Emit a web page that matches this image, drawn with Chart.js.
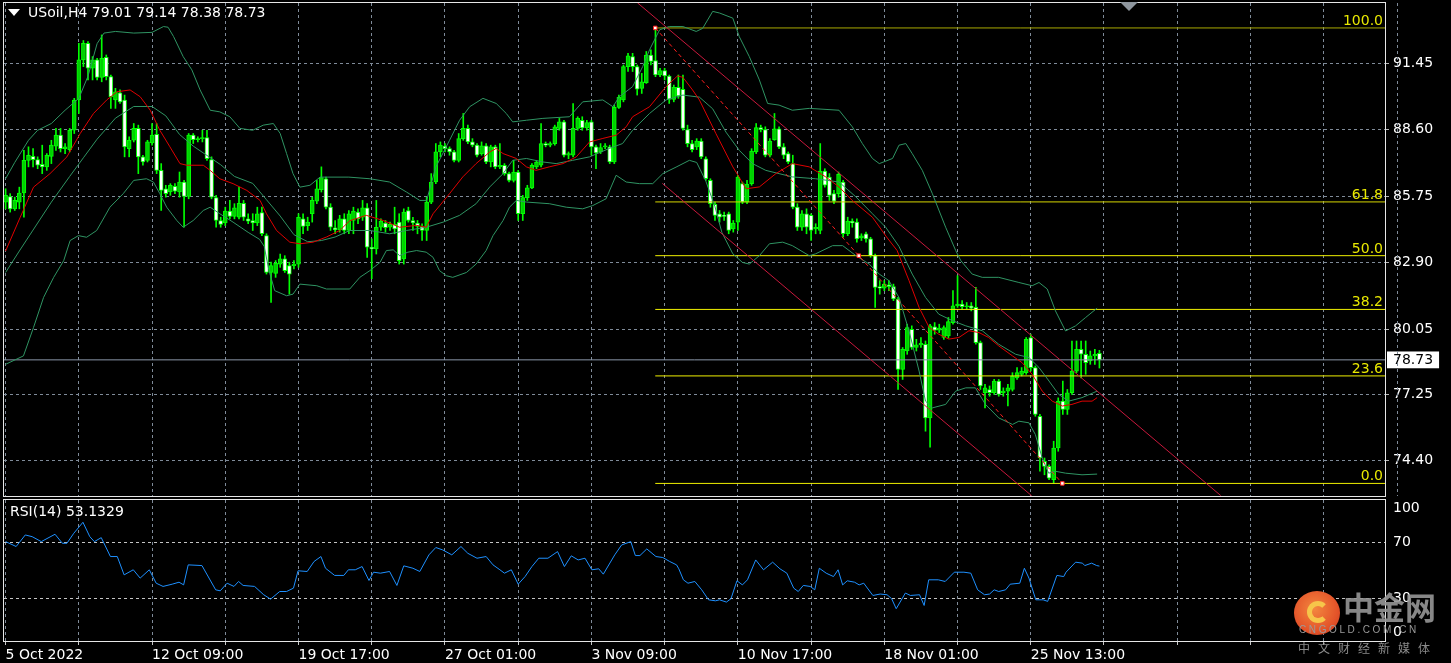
<!DOCTYPE html>
<html><head><meta charset="utf-8">
<script src="https://cdn.jsdelivr.net/npm/chart.js@4.4.1/dist/chart.umd.min.js"></script>
<style>
html,body{margin:0;padding:0;background:#000;width:1451px;height:663px;overflow:hidden;}
#wrap{position:relative;width:1451px;height:663px;background:#000;font-family:"DejaVu Sans",Verdana,sans-serif;}
canvas{position:absolute;left:0;}
#c1{top:0;}
#c2{top:497px;}
.lbl{position:absolute;color:#fff;font-size:14px;white-space:pre;line-height:17px;}
#tri{position:absolute;left:8px;top:9px;width:0;height:0;border-left:6px solid transparent;border-right:6px solid transparent;border-top:7px solid #fff;}
#shift{position:absolute;left:1120px;top:2px;width:0;height:0;border-left:9px solid transparent;border-right:9px solid transparent;border-top:9px solid #8e969e;}
#logo{position:absolute;left:1294px;top:591px;width:46px;height:44px;border-radius:50%;background:radial-gradient(circle at 45% 40%,#f3873f 0%,#e4552a 60%,#c8361c 100%);}
#logo .sw{position:absolute;left:13px;top:10px;width:12px;height:12px;border:5px solid #f6c64a;border-radius:50%;border-right-color:transparent;}
#wm1{position:absolute;left:1343px;top:589px;font-family:"Noto Sans CJK SC",sans-serif;font-weight:bold;font-size:31px;line-height:34px;color:rgba(150,150,150,0.9);}
#wm2{position:absolute;left:1299px;top:624px;font-family:"Liberation Sans",sans-serif;font-size:10px;letter-spacing:2.6px;color:#9a9a9a;}
#wm3{position:absolute;left:1298px;top:639px;font-family:"Noto Sans CJK SC",sans-serif;font-size:12px;letter-spacing:8px;color:#8a8a8a;}
</style></head><body>
<div id="wrap">
<canvas id="c1" width="1451" height="497"></canvas>
<canvas id="c2" width="1451" height="166"></canvas>
<div id="tri"></div>
<div class="lbl" id="title" style="left:28px;top:4px;"></div>
<div class="lbl" id="rsiLbl" style="left:10px;top:503px;"></div>
<div id="shift"></div>
<div id="logo"><div class="sw"></div></div>
<div id="wm1">中金网</div>
<div id="wm2">CNGOLD.COM.CN</div>
<div id="wm3">中文财经新媒体</div>
</div>
<script>
const SYMBOL = 'USoil,H4';
const opens = [
85.50,85.74,85.21,85.50,85.89,87.29,87.46,87.32,87.12,87.01,
87.46,87.90,88.37,87.79,87.75,88.58,89.88,91.60,92.31,91.24,
91.60,90.85,91.71,90.88,89.88,90.19,89.88,87.79,88.15,88.66,
87.44,87.29,88.04,88.41,86.86,86.07,85.93,86.17,85.93,86.36,
85.74,88.37,88.18,88.22,88.27,87.32,85.69,84.71,84.60,85.11,
84.88,84.85,85.45,84.78,84.71,84.60,85.05,84.06,82.48,82.44,
82.84,83.06,82.77,82.77,82.84,84.78,84.49,85.00,85.54,86.03,
86.50,85.28,84.40,84.31,84.78,84.28,84.71,85.07,84.85,85.25,
83.56,83.49,84.42,84.60,84.42,84.54,84.64,83.06,85.14,84.71,
84.60,84.45,84.28,85.50,86.36,87.65,87.90,87.79,87.65,87.29,
88.22,88.66,88.08,87.94,87.58,87.91,87.22,87.87,87.01,87.08,
86.72,86.43,86.79,85.00,85.69,86.11,87.01,87.08,88.01,87.94,
88.01,88.66,88.94,87.51,87.51,88.66,89.01,88.68,88.94,87.87,
87.65,87.87,87.87,87.22,89.56,89.88,91.31,91.74,91.31,90.38,
90.62,91.81,91.57,90.95,91.14,90.91,89.90,90.42,90.34,88.61,
88.01,87.87,88.12,87.36,86.43,85.40,85.00,84.93,85.00,84.35,
84.64,86.29,85.50,86.29,87.65,88.70,88.61,87.51,88.18,88.64,
87.87,87.58,87.15,85.28,84.42,85.00,84.93,84.35,84.28,86.83,
86.57,85.86,85.86,86.36,84.14,84.68,84.64,83.96,84.14,83.92,
83.20,81.87,81.81,81.95,81.87,81.34,78.32,79.11,80.04,79.26,
79.37,79.40,76.24,80.15,80.00,79.69,79.76,80.33,81.05,81.12,
81.01,81.05,80.98,79.47,77.32,77.46,77.32,77.82,77.32,77.39,
77.46,77.96,78.11,78.18,79.69,78.40,76.31,74.38,74.16,73.59,
74.95,76.96,76.60,77.32,78.25,79.18,78.97,78.68,78.90,79.01];
const highs = [
86.07,85.86,85.71,86.14,87.72,87.87,87.79,87.44,87.94,87.58,
88.15,88.66,88.66,88.01,88.66,89.95,92.31,92.43,92.39,91.74,
91.67,92.67,91.81,90.95,90.38,90.31,90.09,88.30,88.87,88.80,
87.51,88.15,88.87,88.87,87.15,86.22,86.29,86.29,86.79,86.43,
88.44,88.44,88.30,88.58,88.58,87.44,85.79,84.85,85.28,85.57,
85.43,86.14,85.57,85.00,85.00,85.28,85.28,84.14,82.92,82.99,
83.27,83.20,82.92,82.99,85.00,85.00,84.85,85.71,86.43,87.01,
86.57,85.43,84.71,84.93,85.00,85.14,85.28,85.21,85.57,85.43,
83.92,85.57,84.78,84.71,84.64,85.28,85.00,85.21,85.28,84.85,
84.71,84.57,85.71,86.72,88.01,88.08,88.01,87.87,87.72,88.44,
89.30,88.80,88.22,88.01,88.08,88.01,87.94,87.94,88.01,87.15,
86.79,87.29,86.86,85.79,86.22,87.15,87.29,88.87,88.08,88.08,
88.80,89.09,89.01,87.65,89.73,89.16,89.16,89.01,89.01,87.94,
88.01,88.01,87.94,89.66,90.09,91.38,91.88,91.88,91.38,91.02,
91.96,92.03,92.97,91.24,91.24,90.95,90.52,90.95,90.95,88.80,
88.15,88.22,88.22,87.44,86.50,85.50,85.14,85.07,85.07,84.71,
86.65,86.36,86.43,87.79,88.87,88.80,88.73,88.22,89.30,88.73,
88.01,87.65,87.51,85.43,85.14,85.21,85.00,84.57,88.01,86.93,
86.72,86.00,86.79,86.43,84.85,84.78,84.78,84.14,84.21,83.99,
83.27,82.13,82.13,82.13,81.98,81.41,79.26,80.26,80.19,79.61,
79.69,79.54,80.26,80.33,80.26,80.19,80.55,81.70,82.34,81.27,
81.19,81.19,81.84,79.54,77.68,77.61,77.89,77.89,77.53,77.68,
78.18,78.40,78.40,79.69,79.83,78.47,76.39,74.52,74.23,75.24,
77.10,77.82,77.46,79.54,79.54,79.54,79.54,79.11,79.18,79.14];
const lows = [
85.21,85.07,85.14,85.21,84.85,87.01,87.01,86.93,86.72,86.86,
87.15,87.72,87.65,87.58,87.65,88.44,89.30,91.31,90.74,90.74,
90.74,90.66,90.74,89.52,89.52,89.73,87.44,87.44,88.08,86.72,
87.08,87.22,87.94,86.72,85.14,85.71,85.79,85.86,85.71,84.42,
85.64,88.01,88.08,88.08,87.29,85.64,84.42,84.42,84.49,84.78,
84.78,84.78,84.71,84.57,84.28,84.49,84.06,82.41,81.19,82.27,
82.70,82.48,81.55,82.63,82.70,84.14,84.28,84.64,85.43,85.93,
85.21,84.28,84.14,84.21,84.14,84.14,84.14,84.57,84.71,83.13,
82.21,83.27,84.28,84.21,84.28,84.14,82.84,82.84,84.64,84.28,
84.14,83.85,83.85,85.43,86.29,87.44,87.65,87.51,87.22,87.22,
88.15,88.01,87.87,87.44,87.51,87.15,87.01,86.93,86.93,86.65,
86.36,86.36,84.71,84.71,85.57,86.07,86.93,87.01,87.87,87.87,
87.94,88.58,87.44,87.36,87.44,88.58,88.58,88.58,87.51,86.93,
87.58,87.79,87.15,87.15,89.52,89.80,91.10,91.10,90.09,90.16,
90.59,91.38,90.88,90.88,90.74,89.73,89.80,89.95,88.58,87.87,
87.65,87.75,87.36,86.43,85.28,84.71,84.64,84.71,84.14,84.21,
84.28,85.43,85.43,86.22,87.58,88.51,87.44,87.44,88.15,87.79,
87.36,87.15,85.21,84.28,84.28,84.14,83.85,84.14,84.14,86.14,
85.57,85.43,85.71,83.99,84.06,84.42,83.78,83.85,83.78,83.13,
80.98,81.55,81.70,81.70,81.27,77.46,77.89,78.97,79.18,79.11,
79.26,75.67,74.99,79.83,79.90,79.61,79.66,80.26,80.98,80.91,
80.91,80.83,79.40,77.46,76.67,77.17,77.25,77.17,77.17,76.75,
77.39,77.89,78.04,78.11,78.25,76.31,73.95,73.80,73.59,73.44,
74.81,76.39,76.39,77.25,78.18,77.96,78.11,78.54,78.54,78.38];
const closes = [
85.79,85.21,85.57,85.89,87.29,87.51,87.32,87.08,87.01,87.51,
87.94,88.37,87.79,87.87,88.58,89.88,91.60,92.31,91.24,91.60,
90.85,91.67,90.88,90.02,90.23,89.80,87.87,88.15,88.66,87.44,
87.22,88.08,88.37,86.86,86.00,85.86,86.22,85.97,86.36,85.74,
88.37,88.18,88.22,88.27,87.36,85.71,84.71,84.54,85.11,84.88,
85.25,85.45,84.85,84.68,84.60,85.00,84.14,82.48,82.77,82.87,
83.06,82.56,82.41,82.84,84.85,84.45,84.64,85.57,86.07,86.55,
85.28,84.42,84.31,84.78,84.28,85.00,85.11,84.78,85.25,83.56,
83.49,84.42,84.68,84.40,84.54,84.35,82.99,85.07,84.71,84.60,
84.45,84.28,85.50,86.36,87.65,87.94,87.79,87.65,87.29,88.22,
88.66,88.08,87.94,87.51,87.91,87.22,87.87,87.01,87.08,86.72,
86.43,86.79,85.00,85.69,86.11,87.08,87.22,88.01,87.94,88.01,
88.73,88.94,87.51,87.58,88.66,89.09,88.68,88.91,87.87,87.61,
87.84,87.91,87.22,89.56,89.99,91.31,91.77,91.31,90.34,90.66,
91.81,91.53,90.95,91.14,90.91,89.90,90.42,90.05,88.66,88.01,
87.75,88.12,87.44,86.50,85.43,84.93,84.85,84.88,84.28,84.60,
86.57,85.50,86.26,87.69,88.70,88.61,87.51,88.12,88.64,87.87,
87.51,87.22,85.28,84.42,85.00,84.42,84.28,84.42,86.83,86.22,
85.79,85.54,86.69,84.14,84.68,84.60,83.92,84.05,83.92,83.20,
81.84,81.81,81.98,81.87,81.34,78.32,79.18,80.11,79.26,79.37,
79.44,76.24,80.19,80.00,80.09,80.12,80.37,81.05,81.12,81.01,
81.05,80.95,79.47,77.61,77.53,77.32,77.82,77.25,77.39,77.53,
78.04,78.18,78.25,79.61,78.40,76.39,74.52,74.16,73.66,74.95,
76.96,76.60,77.32,78.25,79.18,78.97,78.61,78.90,78.97,78.73];

const priceTicks = [91.45, 88.60, 85.75, 82.90, 80.05, 77.25, 74.40];
const xLabels = ['5 Oct 2022','12 Oct 09:00','19 Oct 17:00','27 Oct 01:00','3 Nov 09:00','10 Nov 17:00','18 Nov 01:00','25 Nov 13:00'];

const bbUpper = [[0,86.50],[2,87.2],[5,88.15],[7,88.58],[10,88.87],[13,89.44],[16,89.95],[18,90.9],[20,92.3],[21.5,92.75],[24,92.82],[28,92.75],[32,92.78],[34.5,93.03],[35.5,93.0],[36.7,92.6],[38.8,91.74],[40.7,91.17],[42.5,90.31],[44.7,89.44],[46.8,89.37],[49,89.16],[51.2,88.66],[54,88.58],[56.3,88.80],[58.5,88.87],[60,88.44],[61.4,87.58],[62.8,86.72],[64.3,86.14],[66.5,86.22],[68.7,86.57],[75,86.57],[79.6,86.50],[83.9,86.36],[87.6,85.93],[90.5,85.57],[92,85.57],[94,87.0],[97,88.15],[99.2,89.01],[101.4,89.59],[104.3,89.95],[107.2,89.73],[109.4,89.30],[110.8,88.94],[113.8,89.01],[117.4,89.09],[123.2,89.16],[126.1,89.80],[130.5,89.88],[132.7,89.59],[134.1,90.02],[137,90.45],[139.2,91.31],[140.7,92.03],[142.9,92.89],[145,93.03],[148,93.03],[150.9,92.82],[152.3,92.95],[154.5,93.68],[156,93.61],[158.9,93.39],[160.3,92.60],[162.5,91.74],[164.7,90.74],[166.5,89.73],[169,89.66],[171.9,89.44],[175.6,89.52],[182.1,89.44],[185,88.73],[187.2,88.01],[189.4,87.37],[190.9,87.15],[193.8,87.37],[195.2,87.94],[196.7,88.01],[198.1,87.58],[200.3,86.86],[202.5,85.86],[205.4,84.42],[207.6,83.42],[208.7,82.99],[211.2,82.41],[213.4,82.27],[217,82.27],[221.4,82.05],[224.3,81.91],[225.8,82.05],[227.6,81.77],[229.4,80.83],[231.6,79.97],[233.8,80.19],[236,80.55],[238.5,80.95]];
const bbMiddle = [[0,82.48],[3,83.4],[6,84.3],[10,85.5],[14,86.6],[17,87.4],[20,88.2],[24,89.1],[28,89.6],[32,89.6],[35,89.2],[38,88.4],[41,87.9],[44,87.5],[47,87.1],[50,86.6],[54,86.3],[57,85.6],[60,84.9],[63,84.1],[66,83.8],[69,83.85],[72,84.0],[75.2,84.28],[79.6,84.28],[83.9,84.14],[87.6,84.28],[91.9,84.42],[95.6,84.64],[99.2,84.93],[102.8,85.43],[105.8,86.15],[108.7,86.72],[110.8,87.29],[113.8,87.37],[117.4,87.22],[120.3,87.15],[123.9,87.29],[127.6,87.44],[131.9,87.80],[134.8,88.01],[137,88.58],[140.7,89.30],[144.3,89.88],[148,90.09],[151.6,90.0],[154.5,89.5],[157.4,88.5],[160.3,87.72],[163.2,87.15],[166.1,86.86],[169,86.72],[171.9,86.58],[177,86.50],[182.1,86.36],[185.8,85.72],[189.4,85.00],[192.3,84.42],[195.2,83.60],[198.1,82.41],[201,81.41],[203.9,80.69],[206.9,80.41],[209.8,80.19],[213.4,79.98],[217,79.40],[220.7,78.97],[223.6,78.83],[225.8,78.40],[228,77.82],[230.1,77.25],[232.3,76.96],[235.2,77.11],[238.5,77.39]];
const bbLower = [[0,78.54],[3.9,78.90],[6.1,80.12],[8.3,81.41],[10.5,82.27],[12.7,82.99],[14.1,83.85],[15.9,84.06],[17.7,83.99],[19.9,84.28],[22.8,85.28],[25.7,85.86],[28,86.43],[30.8,86.50],[32.3,86.36],[33.7,85.86],[35.2,85.28],[37.4,84.71],[38.8,84.42],[41,84.71],[43.2,85.14],[44.7,85.28],[46.8,85.00],[49.7,84.64],[53,84.2],[55.5,83.9],[56.5,83.6],[57.5,82.6],[58.8,81.70],[61.4,81.48],[62.8,81.55],[64.3,81.98],[68,81.91],[70.1,81.77],[75.2,81.77],[77.4,82.27],[79.6,82.56],[81.8,82.91],[83.2,83.42],[84.7,83.45],[86.1,83.20],[87.9,83.35],[89.8,83.42],[91.9,83.35],[93.4,83.13],[94.8,82.56],[96.3,82.34],[97.7,82.27],[100.7,82.48],[102.8,82.84],[105,83.42],[106.5,84.06],[108.7,84.71],[110.1,85.28],[111.6,85.57],[113.8,85.50],[118.8,85.43],[122.5,85.28],[126.1,85.21],[128.3,85.35],[131.2,85.64],[133.4,86.65],[135.6,86.36],[138.5,86.29],[141.4,86.29],[143.6,86.72],[146.5,87.00],[149.4,87.29],[151,87.2],[153,86.4],[155,85.3],[156.5,84.2],[158.9,83.28],[161,82.91],[162.5,82.84],[164.7,83.20],[166.9,83.71],[169.8,83.78],[171.9,83.63],[175.6,83.20],[177,83.28],[180.7,83.63],[182.9,83.63],[185.8,83.20],[188.7,82.84],[190.9,82.41],[193,82.13],[195.2,81.41],[197.4,79.97],[199.6,78.25],[201,76.96],[202.5,76.67],[205.4,76.82],[207.6,77.39],[209.8,77.53],[211.9,77.53],[214.1,76.82],[217,76.24],[220,75.96],[221.4,76.10],[223.6,76.03],[225,75.53],[226.5,74.52],[227.9,73.87],[229.4,73.95],[231.6,73.87],[235.2,73.80],[238.5,73.83]];
const maRed = [[0,83.4],[3.2,84.85],[6.1,86.14],[9.7,86.72],[13.4,87.44],[16.3,88.44],[19.2,89.30],[22.1,89.88],[24.3,90.23],[27.2,90.31],[29.4,90.02],[31.6,89.44],[33.7,88.58],[35.9,87.87],[38.1,87.15],[39.6,87.08],[43.2,87.08],[44.7,86.86],[46.8,86.50],[49.7,86.29],[52.7,86.00],[55.6,85.57],[57,85.00],[59.2,84.28],[62.1,83.78],[64.3,83.71],[67.2,83.78],[70.1,84.00],[73,84.28],[75.2,84.70],[78.8,84.93],[82.5,84.71],[86.1,84.42],[89.8,84.50],[91.9,84.42],[93.4,85.00],[97,85.86],[99.9,86.58],[102.8,87.15],[105.8,87.65],[107.2,87.80],[108.7,87.58],[111.6,87.37],[113.8,87.01],[115.9,86.86],[118.8,87.01],[121.8,87.15],[124.7,87.44],[127.6,88.08],[130.5,88.23],[133.4,88.37],[135.6,88.73],[137,89.16],[140.7,89.59],[144.3,90.45],[146.8,90.91],[148,90.85],[150.1,90.31],[151.6,89.88],[155.2,88.44],[158.9,87.01],[161.8,86.07],[164.7,86.15],[168.3,86.72],[171.9,87.15],[175.6,87.01],[179.2,86.58],[182.1,86.15],[185,85.57],[189.4,84.85],[192.5,84.0],[194.8,83.42],[197.4,82.13],[199.6,80.98],[201.8,80.12],[203.9,79.83],[206.1,79.62],[208.3,79.69],[210.5,79.98],[212.7,79.90],[214.8,79.69],[217,79.33],[220,78.90],[222.1,78.61],[224.3,78.11],[226.5,77.39],[228.7,76.96],[230.9,76.75],[233,76.82],[235.2,76.96],[237.4,76.96],[238.5,77.11]];
const rsiSeries = [[0,70.5],[2.3,67.0],[4.3,75.2],[5.8,74.0],[7.8,70.5],[10.8,75.7],[12.4,69.3],[13.4,69.3],[14.9,76.4],[16.9,84.2],[18.4,74.0],[19.4,70.5],[20.9,73.3],[22.9,59.9],[24.4,59.9],[25.9,46.9],[27.9,50.5],[29.4,44.6],[31.4,50.5],[32.9,41.0],[34.4,38.7],[36.4,40.3],[37.9,41.7],[38.9,39.8],[39.9,54.0],[42.9,53.5],[45.9,36.3],[46.9,35.6],[48.4,41.0],[49.9,38.7],[50.9,42.2],[51.9,39.4],[54.4,38.7],[56.4,32.8],[57.9,29.7],[59.9,35.1],[61.4,35.1],[62.9,37.5],[63.9,49.8],[65.9,49.3],[67.4,56.4],[68.9,59.9],[69.9,51.6],[71.9,46.5],[73.9,46.5],[74.9,50.5],[76.4,50.5],[77.9,52.8],[79.4,42.9],[80.4,48.8],[81.9,48.1],[83.9,49.3],[85.5,39.4],[87.0,53.3],[89.0,51.6],[90.5,49.3],[92.5,61.1],[94.0,66.3],[95.5,64.6],[97.5,61.1],[99.5,67.0],[101.0,62.2],[103.0,58.7],[105.0,59.9],[106.5,54.0],[108.0,50.5],[109.0,48.1],[110.5,50.5],[112.0,40.3],[113.5,45.7],[115.0,52.8],[116.5,58.7],[118.5,58.7],[120.6,63.4],[122.1,52.8],[123.6,60.4],[125.1,57.5],[126.6,58.7],[128.1,50.5],[129.6,51.2],[130.6,47.4],[133.1,61.1],[134.6,68.1],[136.6,70.5],[137.6,60.6],[138.6,60.6],[140.1,65.3],[142.1,59.9],[143.6,59.2],[145.1,56.4],[146.6,54.0],[147.1,51.2],[148.1,43.4],[149.1,41.0],[150.6,42.2],[152.1,36.3],[153.6,29.2],[155.1,28.5],[156.0,29.2],[157.5,27.6],[158.5,30.0],[159.8,42.7],[161.0,39.8],[162.1,43.4],[163.9,57.5],[165.6,50.5],[167.6,55.9],[169.2,51.2],[170.7,48.1],[172.2,37.5],[173.2,35.1],[174.3,39.4],[175.8,38.7],[176.8,36.3],[177.8,51.6],[179.3,48.1],[180.9,45.7],[181.9,50.5],[182.9,39.8],[183.9,42.7],[185.5,41.7],[186.5,39.8],[187.5,41.0],[189.5,32.3],[191.1,33.3],[192.6,32.8],[193.6,30.0],[194.6,22.9],[196.6,34.0],[197.7,32.3],[199.7,32.8],[200.7,25.2],[201.7,43.4],[203.8,43.4],[205.3,42.2],[207.3,48.8],[209.4,48.8],[210.9,48.1],[212.4,36.3],[213.9,32.8],[215.0,33.3],[216.0,36.3],[217.0,35.1],[218.5,36.3],[219.5,40.3],[221.6,41.0],[222.6,51.6],[223.6,44.6],[225.1,29.2],[226.7,29.2],[227.7,28.1],[229.7,46.5],[231.2,45.7],[231.7,48.8],[233.8,55.9],[235.3,55.2],[235.8,53.5],[237.3,55.2],[238.4,53.5],[239,53.13]];
const rsiTicks = [0, 30, 70, 100];
const rsiLevels = [30, 70];
const rsiLast = 53.1329;
const fibHigh = [141.95, 92.97];
const fibLow = [230.9, 73.43];
const fibRatios = [1, 0.618, 0.5, 0.382, 0.236, 0];
const fibNames = ['100.0','61.8','50.0','38.2','23.6','0.0'];
const channelUpper = [[138.05, 94.05],[265.5, 72.91]];
const channelLower = [[143.5, 86.30],[224.2, 72.90]];

// ---------- styling ----------
const FONT = '"DejaVu Sans", Verdana, sans-serif';
const GRID = '#7f8b99';
const FRAME = '#e6e6e6';
const X_MIN = -0.35, X_MAX = 301.4;
const Y_MIN = 72.89, Y_MAX = 94.04;
const gridBars = [];
for (let b = 0; b <= 288; b += 16) gridBars.push(b);

const last = closes.length - 1;
const lastClose = closes[last];
document.getElementById('title').textContent =
  SYMBOL + ' ' + opens[last].toFixed(2) + ' ' + highs[last].toFixed(2) + ' ' + lows[last].toFixed(2) + ' ' + closes[last].toFixed(2);
document.getElementById('rsiLbl').textContent = 'RSI(14) ' + rsiLast.toFixed(4);

const pts = arr => arr.map(p => ({x: p[0], y: p[1]}));
const isLast = c => c.tick && Math.abs(c.tick.value - lastClose) < 1e-9;
const noPad = s => { s.paddingTop = 0; s.paddingBottom = 0; s.paddingLeft = 0; s.paddingRight = 0; };

const wickData = closes.map((c, i) => ({x: i, y: [lows[i], highs[i]]}));
const bodyData = closes.map((c, i) => ({x: i, y: [opens[i], closes[i]]}));

const lineDs = (data, color, order, extra) => Object.assign({
  type: 'line', data: pts(data), borderColor: color, borderWidth: 1,
  pointRadius: 0, tension: 0, fill: false, order: order, clip: 0
}, extra || {});

const fibLevel = r => fibLow[1] + r * (fibHigh[1] - fibLow[1]);
const fibColors = ['#a8a800', '#d6d600', '#f0f000', '#f0f000', '#f0f000', '#f0f000'];
const fibDatasets = fibRatios.map((r, k) => lineDs([[fibHigh[0], fibLevel(r)], [X_MAX, fibLevel(r)]], fibColors[k], 6));
const fibMid = [(fibHigh[0] + fibLow[0]) / 2, (fibHigh[1] + fibLow[1]) / 2];

const mainOverlay = {
  id: 'mainOverlay',
  afterDatasetsDraw(chart) {
    const {ctx, chartArea: a, scales} = chart;
    ctx.save();
    ctx.font = '14px ' + FONT;
    ctx.fillStyle = '#e8e800';
    ctx.textAlign = 'right';
    ctx.textBaseline = 'alphabetic';
    fibRatios.forEach((r, k) => {
      const y = scales.y.getPixelForValue(fibLevel(r));
      ctx.fillText(fibNames[k], a.right - 2, y - 3);
    });
    const gx = Math.round(scales.x.getPixelForValue(304)) + 0.5;
    ctx.strokeStyle = GRID; ctx.lineWidth = 1; ctx.setLineDash([3, 3]);
    ctx.beginPath(); ctx.moveTo(gx, a.top); ctx.lineTo(gx, a.bottom); ctx.stroke();
    ctx.setLineDash([]);
    ctx.strokeStyle = FRAME;
    ctx.strokeRect(a.left - 0.5, a.top - 0.5, a.right - a.left + 1, a.bottom - a.top + 1);
    ctx.restore();
  }
};
const frameOnly = {
  id: 'frameOnly',
  afterDatasetsDraw(chart) {
    const {ctx, chartArea: a} = chart;
    ctx.save();
    ctx.strokeStyle = FRAME; ctx.lineWidth = 1;
    ctx.strokeRect(a.left - 0.5, a.top - 0.5, a.right - a.left + 1, a.bottom - a.top + 1);
    ctx.restore();
  }
};

new Chart(document.getElementById('c1'), {
  type: 'bar',
  data: {
    datasets: [
      { type: 'bar', data: wickData, backgroundColor: '#00ff00', barThickness: 1, grouped: false, order: 20, borderWidth: 0 },
      { type: 'bar', data: bodyData, grouped: false, order: 19, barThickness: 4, minBarLength: 1,
        borderWidth: 1, borderSkipped: false, borderColor: '#00ff00',
        backgroundColor: c => (closes[c.dataIndex] >= opens[c.dataIndex] ? '#00d000' : '#ffffff') },
      lineDs(bbUpper, '#2f9463', 5),
      lineDs(bbMiddle, '#2f9463', 5),
      lineDs(bbLower, '#2f9463', 5),
      lineDs(maRed, '#e00000', 4),
      lineDs([[X_MIN, lastClose], [X_MAX, lastClose]], '#8a96a8', 7),
      ...fibDatasets,
      lineDs(channelUpper, '#c8183c', 3),
      lineDs(channelLower, '#c8183c', 3),
      lineDs([fibHigh, fibMid, fibLow], '#ff1e1e', 2, {
        borderDash: [4, 3], pointRadius: 2.5, pointStyle: 'rect',
        pointBackgroundColor: '#ffffff', pointBorderColor: '#ff1e1e', pointBorderWidth: 1 })
    ]
  },
  options: {
    responsive: false, animation: false, events: [],
    layout: { autoPadding: false, padding: { left: 4, right: 0, top: 3, bottom: 1 } },
    plugins: { legend: { display: false }, tooltip: { enabled: false }, title: { display: false } },
    scales: {
      x: {
        type: 'linear', min: X_MIN, max: X_MAX, bounds: 'data', offset: false,
        grid: { offset: false, color: GRID, lineWidth: 1, drawTicks: false },
        border: { display: false, dash: [3, 3] },
        ticks: { display: false },
        afterBuildTicks: s => { s.ticks = gridBars.map(v => ({value: v})); },
        afterFit: s => { s.height = 0; noPad(s); }
      },
      y: {
        type: 'linear', position: 'right', min: Y_MIN, max: Y_MAX, bounds: 'data', beginAtZero: false,
        grid: { color: c => isLast(c) ? 'rgba(0,0,0,0)' : GRID, lineWidth: 1, drawTicks: true, tickLength: 4,
                tickColor: c => isLast(c) ? 'rgba(0,0,0,0)' : '#b8b8b8' },
        border: { display: false, dash: [3, 3] },
        ticks: {
          font: { family: FONT, size: 14 }, padding: 4, autoSkip: false,
          color: c => isLast(c) ? '#000000' : '#ffffff',
          callback: v => Number(v).toFixed(2),
          showLabelBackdrop: c => isLast(c), backdropColor: '#ffffff',
          backdropPadding: { left: 6, right: 6, top: 0, bottom: 0 }
        },
        afterBuildTicks: s => { s.ticks = priceTicks.concat([lastClose]).map(v => ({value: v})); },
        afterFit: s => { s.width = 66; noPad(s); }
      }
    }
  },
  plugins: [mainOverlay]
});

new Chart(document.getElementById('c2'), {
  type: 'line',
  data: { datasets: [ lineDs(rsiSeries, '#1e90ff', 1) ] },
  options: {
    responsive: false, animation: false, events: [],
    layout: { autoPadding: false, padding: { left: 4, right: 0, top: 3, bottom: 0 } },
    plugins: { legend: { display: false }, tooltip: { enabled: false } },
    scales: {
      x: {
        type: 'linear', min: X_MIN, max: X_MAX, bounds: 'data', offset: false,
        grid: { color: GRID, lineWidth: 1, drawTicks: true, tickLength: 4, tickColor: '#c8c8c8' },
        border: { display: false, dash: [3, 3] },
        ticks: {
          font: { family: FONT, size: 14 }, color: '#ffffff', padding: 2,
          autoSkip: false, maxRotation: 0, minRotation: 0, align: 'start',
          callback: v => (v % 32 === 0 && xLabels[v / 32] !== undefined) ? xLabels[v / 32] : ''
        },
        afterBuildTicks: s => { s.ticks = gridBars.map(v => ({value: v})); },
        afterFit: s => { s.height = 22; noPad(s); }
      },
      y: {
        type: 'linear', position: 'right', min: 0, max: 100, bounds: 'data',
        grid: { color: c => (c.tick && rsiLevels.includes(c.tick.value)) ? '#c4c4c4' : 'rgba(0,0,0,0)',
                drawTicks: true, tickLength: 4, tickColor: 'rgba(0,0,0,0)' },
        border: { display: false, dash: [3, 3] },
        ticks: {
          font: { family: FONT, size: 14 }, color: '#ffffff', padding: 4, autoSkip: false,
          callback: v => v === 100 ? ['', '100'] : (v === 0 ? ['0', ''] : String(v))
        },
        afterBuildTicks: s => { s.ticks = rsiTicks.map(v => ({value: v})); },
        afterFit: s => { s.width = 66; noPad(s); }
      }
    }
  },
  plugins: [frameOnly]
});
</script>
</body></html>
